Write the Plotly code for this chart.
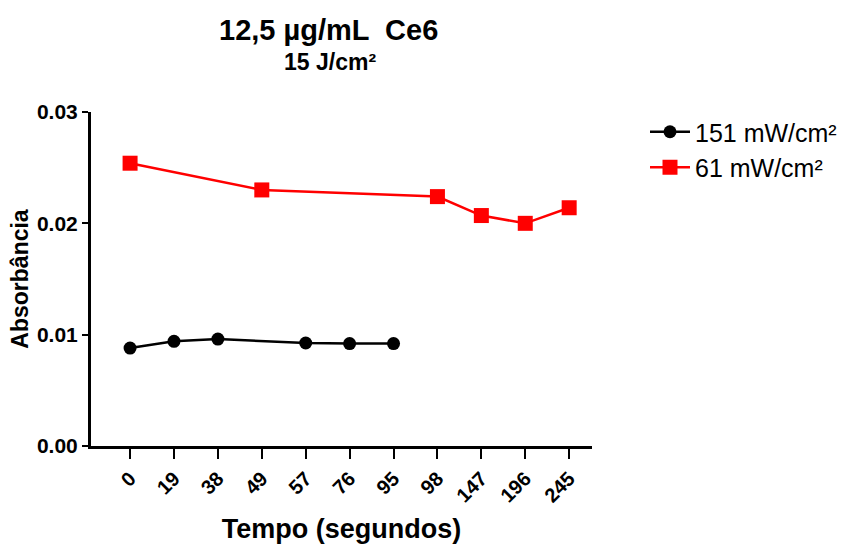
import plotly.graph_objects as go

categories = ["0", "19", "38", "49", "57", "76", "95", "98", "147", "196", "245"]

black_x = ["0", "19", "38", "57", "76", "95"]
black_y = [0.0088, 0.0094, 0.0096, 0.00925, 0.0092, 0.0092]

red_x = ["0", "49", "98", "147", "196", "245"]
red_y = [0.0254, 0.0230, 0.0224, 0.0207, 0.0200, 0.0214]

y_ticks = [0.0, 0.01, 0.02, 0.03]
y_ticktext = ["0.00", "0.01", "0.02", "0.03"]

FONT = "Liberation Sans, Arial, sans-serif"

L, R, T, B = 91, 269, 112, 101
W, H = 861, 547
PW, PH = W - L - R, H - T - B


def px_x(x):
    return (x - L) / PW


def px_y(y):
    return (H - B - y) / PH


fig = go.Figure()
fig.add_trace(go.Scatter(
    x=black_x, y=black_y, mode="lines+markers", name="151 mW/cm²",
    line=dict(color="black", width=2.5),
    marker=dict(symbol="circle", size=13, color="black"),
))
fig.add_trace(go.Scatter(
    x=red_x, y=red_y, mode="lines+markers", name="61 mW/cm²",
    line=dict(color="#ff0000", width=2.5),
    marker=dict(symbol="square", size=15, color="#ff0000"),
))

fig.update_layout(
    width=W, height=H,
    margin=dict(l=L, r=R, t=T, b=B),
    paper_bgcolor="white", plot_bgcolor="white",
    font=dict(family=FONT, color="black"),
    showlegend=True,
    legend=dict(
        x=px_x(645), y=px_y(109), xanchor="left", yanchor="top",
        font=dict(size=25, family=FONT, color="black"),
        bgcolor="rgba(0,0,0,0)", tracegroupgap=12,
        itemwidth=40,
    ),
    annotations=[
        dict(text="<b>12,5 µg/mL  Ce6</b>", x=px_x(328), y=px_y(30),
             xref="paper", yref="paper", xanchor="center", yanchor="middle",
             showarrow=False, font=dict(size=29, family=FONT)),
        dict(text="<b>15 J/cm²</b>", x=px_x(330), y=px_y(62),
             xref="paper", yref="paper", xanchor="center", yanchor="middle",
             showarrow=False, font=dict(size=23, family=FONT)),
    ],
)

fig.update_xaxes(
    type="category", categoryorder="array", categoryarray=categories,
    range=[-0.89, 10.52], automargin=False,
    showline=True, linecolor="black", linewidth=3,
    ticks="outside", ticklen=10, tickwidth=2, tickcolor="black",
    tickangle=-45, tickfont=dict(size=20, family=FONT, weight="bold"),
    showgrid=False, zeroline=False,
    title=dict(text="<b>Tempo (segundos)</b>", font=dict(size=27, family=FONT), standoff=14),
)
fig.update_yaxes(
    range=[0, 0.03], tickvals=y_ticks, ticktext=y_ticktext, automargin=False,
    showline=True, linecolor="black", linewidth=3,
    ticks="outside", ticklen=6, tickwidth=2, tickcolor="black",
    tickfont=dict(size=21, family=FONT, weight="bold"),
    showgrid=False, zeroline=False,
    title=dict(text="<b>Absorbância</b>", font=dict(size=23, family=FONT), standoff=2),
)

fig.write_html("out.html")
